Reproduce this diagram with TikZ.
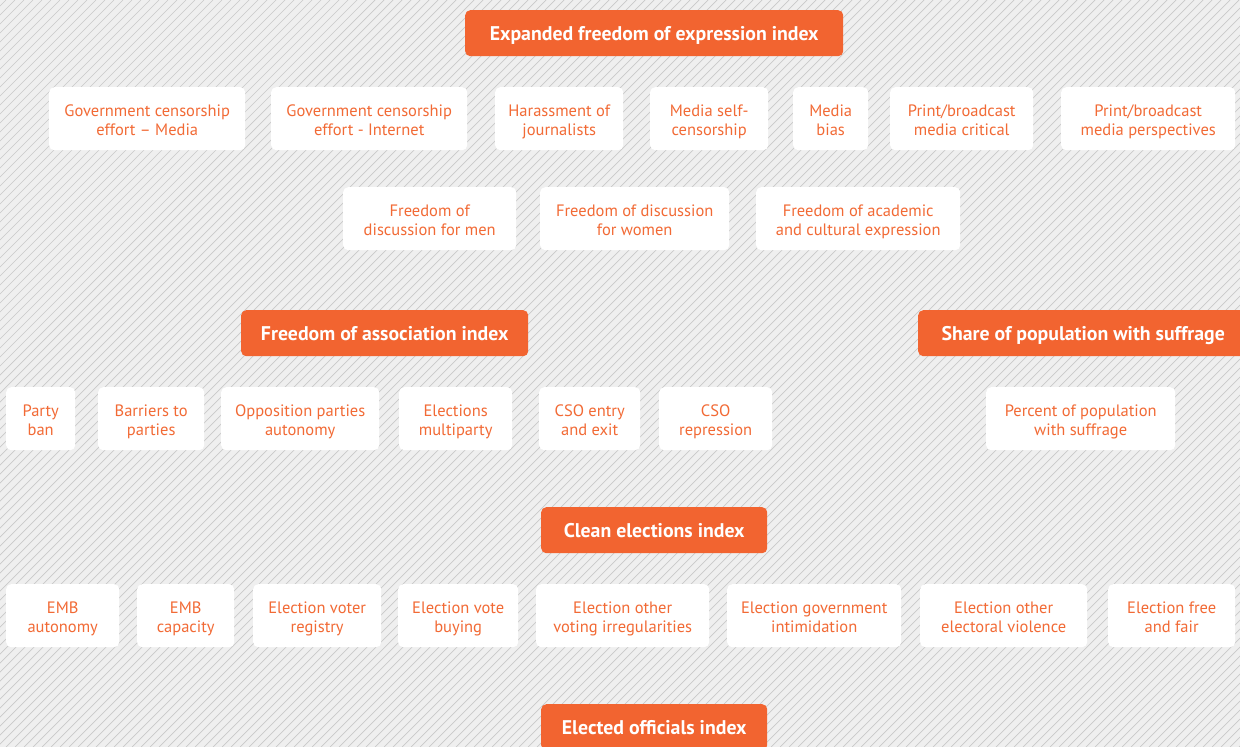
\documentclass[tikz,border=0pt]{standalone}
\usepackage{fontspec}
\setmainfont{PT Sans}
\definecolor{bgc}{HTML}{EFEFEF}
\definecolor{hatch}{HTML}{C9C9C9}
\definecolor{org}{HTML}{F26430}
\definecolor{otxt}{HTML}{F26A35}
\begin{document}
\begin{tikzpicture}[x=1pt,y=-1pt,
  wbox/.style={fill=white,rounded corners=5pt,anchor=north west,align=center,text=otxt,
    font=\fontsize{16.5}{19}\selectfont,inner sep=0pt,minimum height=63,
    text height=37pt,text depth=4pt},
  hbox/.style={fill=org,rounded corners=5pt,anchor=north west,align=center,text=white,
    font=\fontsize{19.8}{24}\selectfont\bfseries,inner sep=0pt,minimum height=46,
    text height=17pt,text depth=3pt}]
\useasboundingbox (0,0) rectangle (1240,747);
\fill[bgc] (0,0) rectangle (1240,747);
\begin{scope}
\clip (0,0) rectangle (1240,747);
\foreach \i in {-750,-741,...,1240} \draw[hatch,line width=0.7] (\i,747) -- (\i+747,0);
\end{scope}
% headers
\node[hbox,minimum width=378] (h1) at (465,10) {Expanded freedom of expression index};
\node[hbox,minimum width=287] (h2) at (241,310) {Freedom of association index};
\node[hbox,minimum width=330] (h3) at (918,310) {Share of population with suffrage};
\node[hbox,minimum width=226] (h4) at (541,507) {Clean elections index};
\node[hbox,minimum width=226] (h5) at (541,704) {Elected officials index};
% row 1
\node[wbox,minimum width=196] (a1) at (49,87) {Government censorship\\effort -- Media};
\node[wbox,minimum width=196] (a2) at (271,87) {Government censorship\\effort - Internet};
\node[wbox,minimum width=128] (a3) at (495,87) {Harassment of\\journalists};
\node[wbox,minimum width=118] (a4) at (650,87) {Media self-\\censorship};
\node[wbox,minimum width=75] (a5) at (793,87) {Media\\bias};
\node[wbox,minimum width=143] (a6) at (890,87) {Print/broadcast\\media critical};
\node[wbox,minimum width=174] (a7) at (1061,87) {Print/broadcast\\media perspectives};
% row 2
\node[wbox,minimum width=173] (b1) at (343,187) {Freedom of\\discussion for men};
\node[wbox,minimum width=189] (b2) at (540,187) {Freedom of discussion\\for women};
\node[wbox,minimum width=204] (b3) at (756,187) {Freedom of academic\\and cultural expression};
% row 3
\node[wbox,minimum width=69] (c1) at (6,387) {Party\\ban};
\node[wbox,minimum width=106] (c2) at (98,387) {Barriers to\\parties};
\node[wbox,minimum width=158] (c3) at (221,387) {Opposition parties\\autonomy};
\node[wbox,minimum width=113] (c4) at (399,387) {Elections\\multiparty};
\node[wbox,minimum width=101] (c5) at (539,387) {CSO entry\\and exit};
\node[wbox,minimum width=113] (c6) at (659,387) {CSO\\repression};
\node[wbox,minimum width=189] (c7) at (986,387) {Percent of population\\with suffrage};
% row 4
\node[wbox,minimum width=113] (d1) at (6,584) {EMB\\autonomy};
\node[wbox,minimum width=97] (d2) at (137,584) {EMB\\capacity};
\node[wbox,minimum width=128] (d3) at (253,584) {Election voter\\registry};
\node[wbox,minimum width=120] (d4) at (398,584) {Election vote\\buying};
\node[wbox,minimum width=173] (d5) at (536,584) {Election other\\voting irregularities};
\node[wbox,minimum width=174] (d6) at (727,584) {Election government\\intimidation};
\node[wbox,minimum width=167] (d7) at (920,584) {Election other\\electoral violence};
\node[wbox,minimum width=127] (d8) at (1108,584) {Election free\\and fair};
\end{tikzpicture}
\end{document}
